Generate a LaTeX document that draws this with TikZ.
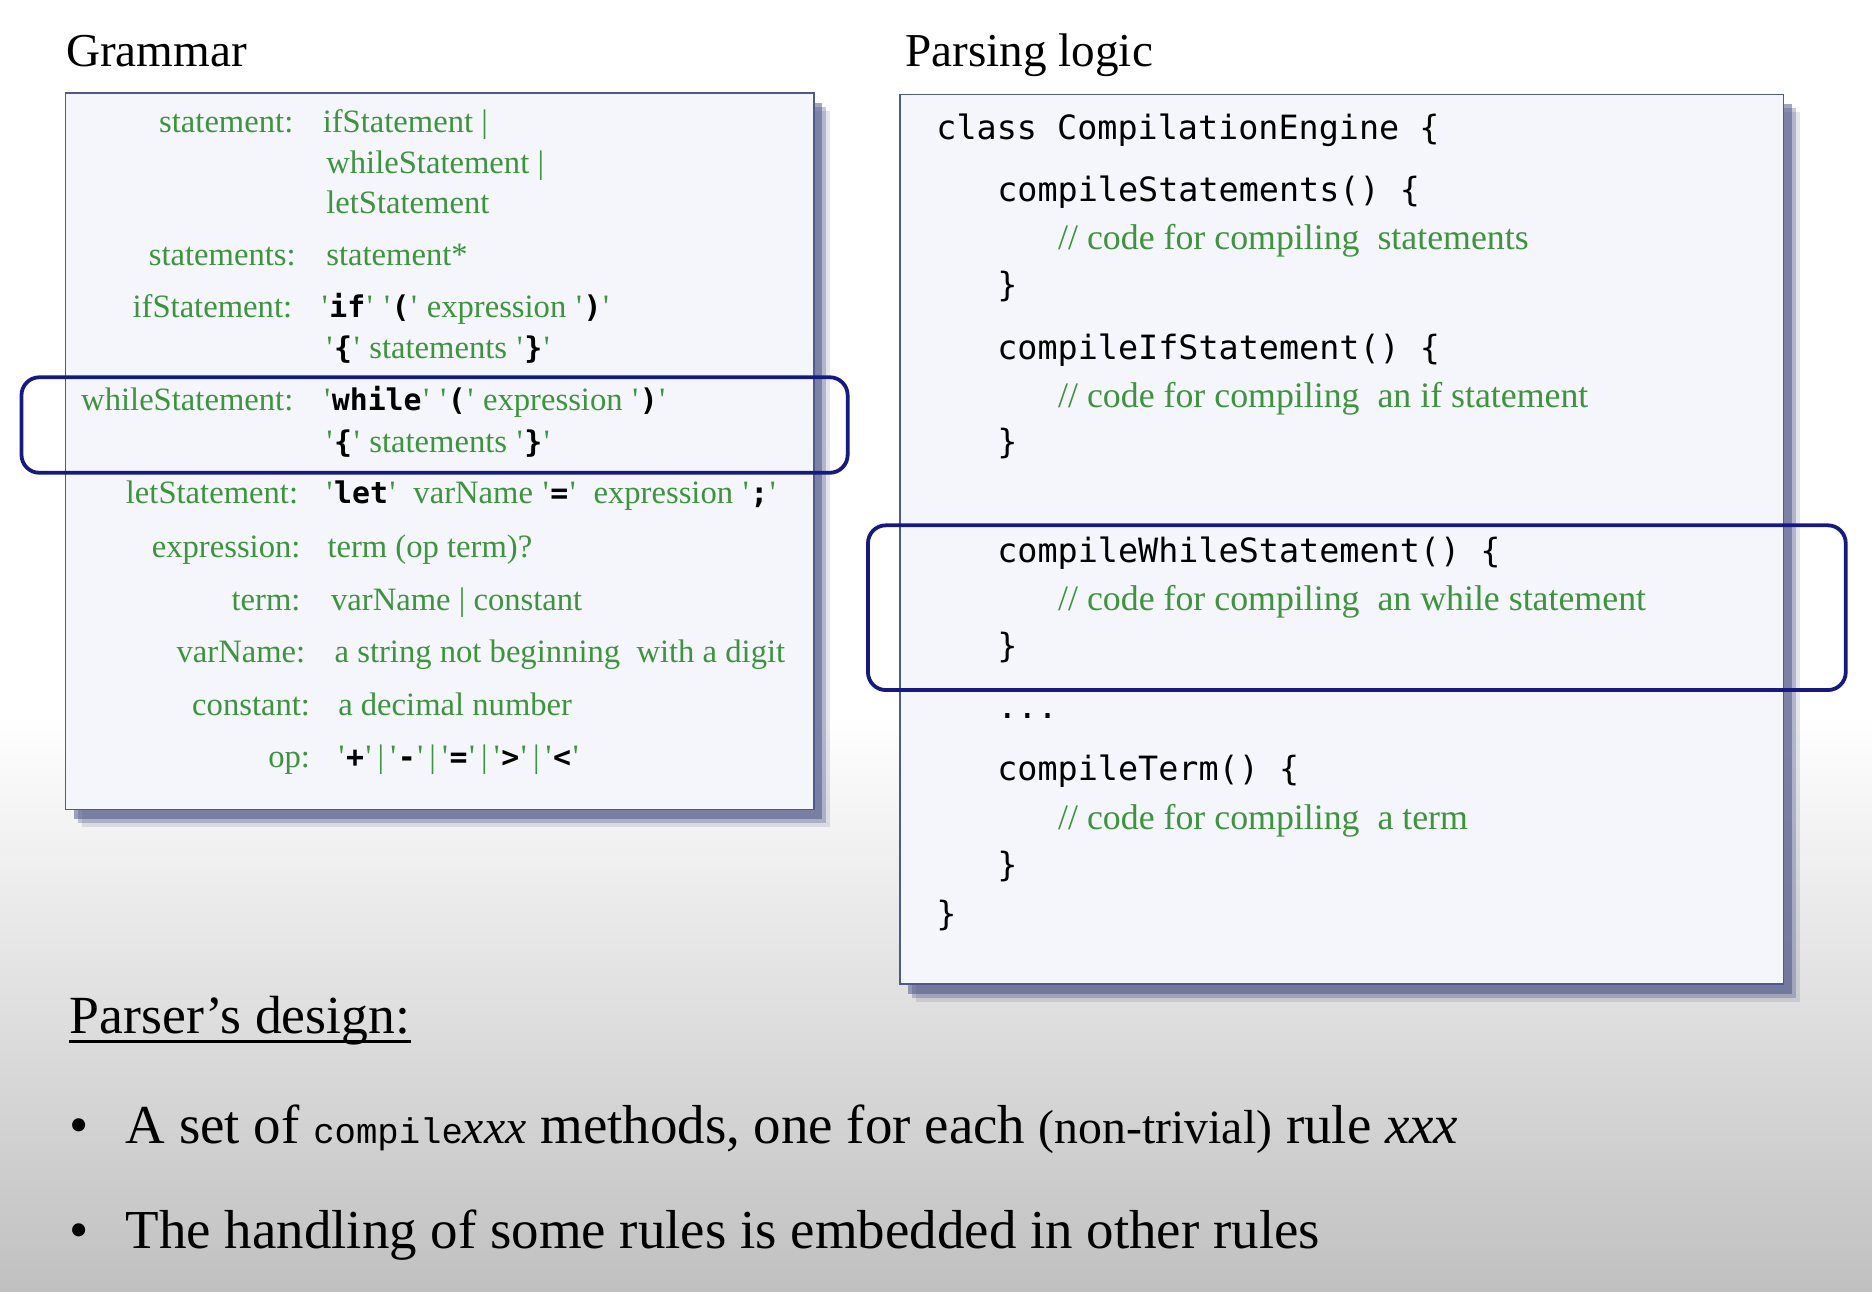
\documentclass[tikz,border=0pt]{standalone}
\usepackage{fontspec}
\setmainfont{Liberation Serif}
\setmonofont{DejaVu Sans Mono}
\newfontfamily\courierfont{Liberation Mono}
\newfontfamily\qfont{Liberation Serif}[Ligatures=TeXOff]
\usetikzlibrary{shadows}

\newcommand{\gramfont}{\fontsize{16.4}{19}\selectfont}
\newcommand{\codefont}{\fontsize{16.8}{20}\selectfont\ttfamily}
\newcommand{\cmtfont}{\fontsize{18}{21}\selectfont}
\newcommand{\bigfont}{\fontsize{27.6}{32}\selectfont}
\newcommand{\q}{{\qfont\kern0.8pt\char"27\kern0.8pt}}
\newcommand{\kw}[1]{{\color{black}\fontsize{15}{18}\selectfont\ttfamily\bfseries #1}}
\newcommand{\tk}[1]{\q\kw{#1}\q}
\newcommand{\orbar}{\hspace{0.14em}|\hspace{0.14em}}

\begin{document}
\begin{tikzpicture}[x=0.6pt,y=-0.6pt,
    lhs/.style={anchor=base east,inner sep=0pt,text=gramgreen,font=\gramfont},
    rhs/.style={anchor=base west,inner sep=0pt,text=gramgreen,font=\gramfont},
    code/.style={anchor=base west,inner sep=0pt,font=\codefont},
    cmt/.style={anchor=base west,inner sep=0pt,text=gramgreen,font=\cmtfont},
    title/.style={anchor=base west,inner sep=0pt,font=\fontsize{23.7}{28}\selectfont},
    bullet/.style={anchor=base west,inner sep=0pt,font=\bigfont},
    panel/.style={draw=panelline,fill=panelfill,line width=0.8pt,
      drop shadow={shadow xshift=8pt,shadow yshift=-9pt,fill=shadowcol,opacity=.15},
      drop shadow={shadow xshift=6pt,shadow yshift=-7pt,fill=shadowcol,opacity=.3},
      drop shadow={shadow xshift=4pt,shadow yshift=-5pt,fill=shadowcol,opacity=.5}},
    hilite/.style={draw=hiliteblue,line width=1.9pt,rounded corners=9pt}]

    \definecolor{gramgreen}{RGB}{62,148,62}
    \definecolor{hiliteblue}{RGB}{22,26,128}
    \definecolor{panelfill}{RGB}{245,245,252}
    \definecolor{panelline}{RGB}{80,88,140}
    \definecolor{shadowcol}{RGB}{70,78,130}
    \definecolor{bgbottom}{RGB}{192,192,192}

    \useasboundingbox (0,0) rectangle (1568,1082);

    % slide background
    \fill[white] (0,0) rectangle (1568,600);
    \shade[top color=white,bottom color=bgbottom] (0,600) rectangle (1568,1082);

    % titles
    \node[title] (grammar) at (55,56) {Grammar};
    \node[title] (parsing) at (758,56) {Parsing logic};

    % grammar panel
    \draw[panel] (55,78) rectangle (682,678);

    \node[lhs] (lstatement) at (246,111) {statement:};
    \node[rhs] (rstatement) at (270,111) {ifStatement |};
    \node[rhs] (rstatementb) at (273,145) {whileStatement |};
    \node[rhs] (rstatementc) at (273,179) {letStatement};
    \node[lhs] (lstatements) at (248,222) {statements:};
    \node[rhs] (rstatements) at (273,222) {statement*};
    \node[lhs] (lif) at (245,266) {ifStatement:};
    \node[rhs] (rif) at (268,266) {\tk{if}\ \tk{(}\ expression \tk{)}};
    \node[rhs] (rifb) at (272,300) {\tk{\{}\ statements \tk{\}}};
    \node[lhs] (lwhile) at (246,344) {whileStatement:};
    \node[rhs] (rwhile) at (270,344) {\tk{while}\ \tk{(}\ expression \tk{)}};
    \node[rhs] (rwhileb) at (272,379) {\tk{\{}\ statements \tk{\}}};
    \node[lhs] (llet) at (250,422) {letStatement:};
    \node[rhs] (rlet) at (272,422) {\tk{let}\ \ varName \tk{=}\ \ expression \tk{;}};
    \node[lhs] (lexpr) at (252,467) {expression:};
    \node[rhs] (rexpr) at (274,467) {term (op term)?};
    \node[lhs] (lterm) at (252,511) {term:};
    \node[rhs] (rterm) at (277,511) {varName | constant};
    \node[lhs] (lvar) at (256,555) {varName:};
    \node[rhs] (rvar) at (280,555) {a string not beginning\ \ with a digit};
    \node[lhs] (lconst) at (260,599) {constant:};
    \node[rhs] (rconst) at (283,599) {a decimal number};
    \node[lhs] (lop) at (260,643) {op:};
    \node[rhs] (rop) at (282,643) {\tk{+}\orbar\tk{-}\orbar\tk{=}\orbar\tk{>}\orbar\tk{<}};

    % parsing logic panel
    \draw[panel] (754,79) rectangle (1494,824);

    \node[code] (cls) at (784,117) {class CompilationEngine \{};
    \node[code] (stm) at (835,169) {compileStatements() \{};
    \node[cmt] (stmc) at (886,209) {// code for compiling\ \ statements};
    \node[code] (stme) at (835,248) {\}};
    \node[code] (ifs) at (835,301) {compileIfStatement() \{};
    \node[cmt] (ifsc) at (886,341) {// code for compiling\ \ an if statement};
    \node[code] (ifse) at (835,380) {\}};
    \node[code] (whl) at (835,471) {compileWhileStatement() \{};
    \node[cmt] (whlc) at (886,511) {// code for compiling\ \ an while statement};
    \node[code] (whle) at (835,551) {\}};
    \node[code] (dots) at (835,602) {...};
    \node[code] (trm) at (835,654) {compileTerm() \{};
    \node[cmt] (trmc) at (886,695) {// code for compiling\ \ a term};
    \node[code] (trme) at (835,734) {\}};
    \node[code] (clse) at (784,775) {\}};

    % the two matching parts
    \draw[hilite] (18,316) rectangle (710,396);
    \draw[hilite] (727,440) rectangle (1546,578);

    % parser's design
    \node[bullet,font=\fontsize{27}{32}\selectfont] (design) at (58,866) {Parser’s design:};
    \draw[line width=1.4pt] ([yshift=-4pt]design.base west) -- ([yshift=-4pt]design.base east);

    \node[bullet] (dota) at (58,958) {\textbullet};
    \node[bullet] (bula) at (105,958) {A set of {\courierfont\fontsize{17.9}{20}\selectfont compile}{\itshape\fontsize{24}{28}\selectfont xxx} methods, one for each {\fontsize{24}{28}\selectfont (non-trivial)} rule {\itshape xxx}};
    \node[bullet] (dotb) at (58,1046) {\textbullet};
    \node[bullet] (bulb) at (105,1046) {The handling of some rules is embedded in other rules};

\end{tikzpicture}
\end{document}
